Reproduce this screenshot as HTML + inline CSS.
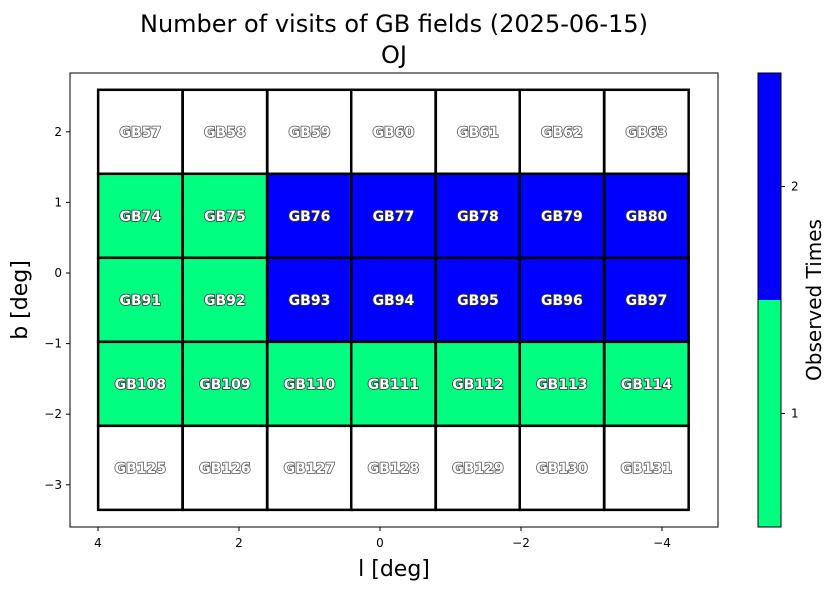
<!DOCTYPE html>
<html><head><meta charset="utf-8"><style>
body{margin:0;background:#fff;width:835px;height:590px;overflow:hidden}
svg text{font-family:"DejaVu Sans","Liberation Sans",sans-serif}
</style></head><body>
<svg id="chart" width="835" height="590">
<text x="394" y="32" font-size="24" text-anchor="middle">Number of visits of GB fields (2025-06-15)</text>
<text x="394" y="63" font-size="24" text-anchor="middle">OJ</text>
<rect x="70" y="73" width="648" height="454" fill="none" stroke="#000" stroke-width="1"/>
<g id="cells"></g><g id="xt"></g><g id="yt"></g>
<text x="394" y="576" font-size="22" text-anchor="middle">l [deg]</text>
<text transform="translate(27,300) rotate(-90)" font-size="22" text-anchor="middle">b [deg]</text>
<g id="cbar"></g>
<text transform="translate(821,300) rotate(-90)" font-size="20" text-anchor="middle">Observed Times</text>
</svg>
<script>
const fieldRows=[["GB57","GB58","GB59","GB60","GB61","GB62","GB63"],["GB74","GB75","GB76","GB77","GB78","GB79","GB80"],["GB91","GB92","GB93","GB94","GB95","GB96","GB97"],["GB108","GB109","GB110","GB111","GB112","GB113","GB114"],["GB125","GB126","GB127","GB128","GB129","GB130","GB131"]];
const visitCounts=[[0,0,0,0,0,0,0],[1,1,2,2,2,2,2],[1,1,2,2,2,2,2],[1,1,1,1,1,1,1],[0,0,0,0,0,0,0]];
const colCenters=[3.40,2.20,1.00,-0.19,-1.39,-2.58,-3.78];
const rowCenters=[2.0,0.81,-0.38,-1.57,-2.76];
const xTicks=[4,2,0,-2,-4];
const yTicks=[2,1,0,-1,-2,-3];
const cbTicks=[1,2];
const cellW=1.196,cellH=1.19;
const NS="http://www.w3.org/2000/svg";
const X=l=>98+(4-l)*70.5, Y=b=>273-b*70.6;
const CB=v=>527-(v-0.5)*227;
function mk(t,a,p){const e=document.createElementNS(NS,t);for(const k in a)e.setAttribute(k,a[k]);p.appendChild(e);return e;}
const colors={0:"#ffffff",1:"#00ff80",2:"#0000ff"};
const cells=document.getElementById('cells');
fieldRows.forEach((row,r)=>row.forEach((name,c)=>{
 const x0=X(colCenters[c]+cellW/2),x1=X(colCenters[c]-cellW/2),y0=Y(rowCenters[r]+cellH/2),y1=Y(rowCenters[r]-cellH/2);
 const rc=mk('rect',{x:x0,y:y0,width:x1-x0,height:y1-y0,fill:colors[visitCounts[r][c]],stroke:"#000","stroke-width":2.5},cells);
 
 
 const t=mk('text',{x:X(colCenters[c]),y:Y(rowCenters[r])+5,"font-size":14,"font-weight":"bold","text-anchor":"middle",fill:"#fff",stroke:visitCounts[r][c]?"#333":"#555","stroke-width":1.6,"paint-order":"stroke"},cells);
 t.textContent=name;
 
 
}));
const xt=document.getElementById('xt');
xTicks.forEach(v=>{const x=X(v);mk('line',{x1:x,x2:x,y1:527,y2:531,stroke:"#000"},xt);
 const t=mk('text',{x:x,y:547,"font-size":12,"text-anchor":"middle"},xt);t.textContent=v<0?"\u2212"+(-v):v;
 
 });
const yt=document.getElementById('yt');
yTicks.forEach(v=>{const y=Y(v);mk('line',{x1:66,x2:70,y1:y,y2:y,stroke:"#000"},yt);
 const t=mk('text',{x:62,y:y+4,"font-size":12,"text-anchor":"end"},yt);t.textContent=v<0?"\u2212"+(-v):v;
 
 });
const cb=document.getElementById('cbar');
let r1=mk('rect',{x:758,y:CB(1.5),width:23,height:CB(0.5)-CB(1.5),fill:colors[1]},cb);


let r2=mk('rect',{x:758,y:CB(2.5),width:23,height:CB(1.5)-CB(2.5),fill:colors[2]},cb);


mk('rect',{x:758,y:73,width:23,height:454,fill:"none",stroke:"#000"},cb);
cbTicks.forEach(v=>{const y=CB(v);mk('line',{x1:781,x2:785,y1:y,y2:y,stroke:"#000"},cb);
 const t=mk('text',{x:791,y:y+4,"font-size":12},cb);t.textContent=v;
 
 });
</script>
</body></html>
